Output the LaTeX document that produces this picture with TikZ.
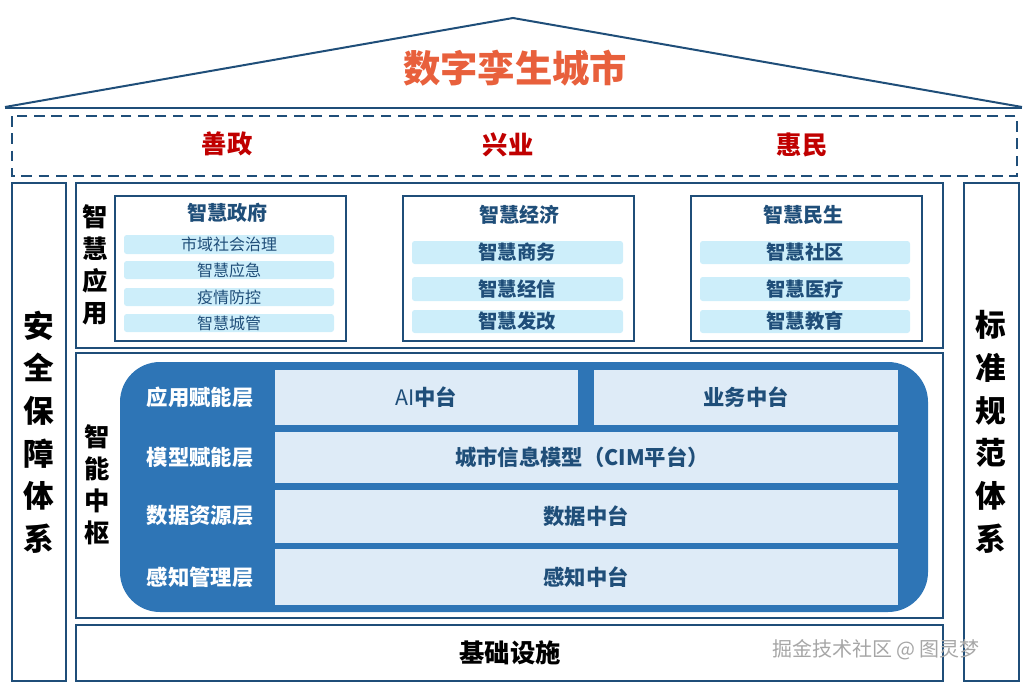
\documentclass[tikz,border=0pt]{standalone}
\usepackage{fontspec}
\setmainfont{Noto Sans CJK SC}[BoldFont={Noto Sans CJK SC Black}]
\definecolor{frame}{RGB}{31,78,121}
\definecolor{hub}{RGB}{46,117,182}
\definecolor{cell}{RGB}{222,235,247}
\definecolor{bar}{RGB}{205,238,250}
\definecolor{goal}{RGB}{192,0,0}
\definecolor{titlec}{RGB}{232,96,60}
\tikzset{every picture/.style={line width=1pt},
  box/.style={draw=frame,line width=1.2pt},
  bar/.style={fill=bar,draw=none,rounded corners=2pt},
  celltxt/.style={font=\bfseries\fontsize{16}{16}\selectfont,text=frame},
  layer/.style={font=\bfseries\fontsize{16}{16}\selectfont,text=white},
  vert/.style={font=\bfseries\fontsize{23}{32}\selectfont,align=center}}

\begin{document}
\begin{tikzpicture}[x=0.75pt,y=0.75pt,yscale=-1,xscale=1]
\useasboundingbox (0,0) rectangle (1027,685);

%Roof
\draw [frame,line width=1.5pt] (5,107) -- (513,18) -- (1022,107) ;
\draw [frame,line width=1.5pt] (5,108) -- (1022,108) ;
\node (title) [font=\bfseries\fontsize{28}{28}\selectfont,text=titlec] at (515,68) {数字孪生城市};

%Goals
\draw [frame,line width=2.2pt,dash pattern={on 8pt off 5pt}] (12,116) rectangle (1017,176) ;
\node (g1) [font=\bfseries\fontsize{19}{19}\selectfont,text=goal] at (227,144) {善政};
\node (g2) [font=\bfseries\fontsize{19}{19}\selectfont,text=goal] at (508,145) {兴业};
\node (g3) [font=\bfseries\fontsize{19}{19}\selectfont,text=goal] at (802,145) {惠民};

%Side columns
\draw [box] (12,183) rectangle (66,681) ;
\draw [box] (964,183) rectangle (1019,681) ;
\node (safe) [vert] at (39,432) {安\\全\\保\\障\\体\\系};
\node (norm) [vert] at (991,432) {标\\准\\规\\范\\体\\系};

%Smart applications
\draw [box] (76,183) rectangle (943,348) ;
\node (app) [vert,font=\bfseries\fontsize{19}{24}\selectfont] at (95,265) {智\\慧\\应\\用};
\draw [box] (115,196) rectangle (346,341) ;
\draw [box] (403,196) rectangle (634,341) ;
\draw [box] (691,196) rectangle (922,341) ;
\node (gov) [font=\bfseries\fontsize{15}{15}\selectfont,text=frame] at (227,213) {智慧政府};
\node (eco) [font=\bfseries\fontsize{15}{15}\selectfont,text=frame] at (519,215) {智慧经济};
\node (liv) [font=\bfseries\fontsize{15}{15}\selectfont,text=frame] at (803,215) {智慧民生};
\foreach \ya/\yb/\t [count=\i] in {235/254/市域社会治理,261/279/智慧应急,288/306/疫情防控,314/332/智慧城管}
  {\fill [bar] (124,\ya) rectangle (334,\yb);
   \node (gov\i) [font=\fontsize{12}{12}\selectfont,text=frame] at (229,{(\ya+\yb)/2}) {\t};}
\foreach \ya/\yb/\t/\s [count=\i] in {241/264/智慧商务/智慧社区,277/301/智慧经信/智慧医疗,310/333/智慧发改/智慧教育}
  {\fill [bar] (412,\ya) rectangle (623,\yb);
   \fill [bar] (700,\ya) rectangle (910,\yb);
   \node (eco\i) [font=\bfseries\fontsize{14.5}{14.5}\selectfont,text=frame] at (517,{(\ya+\yb)/2}) {\t};
   \node (liv\i) [font=\bfseries\fontsize{14.5}{14.5}\selectfont,text=frame] at (805,{(\ya+\yb)/2}) {\s};}

%Smart hub
\draw [box] (76,353) rectangle (943,618) ;
\node (hubl) [vert,font=\bfseries\fontsize{19}{24}\selectfont] at (97,485) {智\\能\\中\\枢};
\fill [hub,rounded corners=30pt] (120,362) rectangle (928,612) ;
\fill [cell] (275,370) rectangle (578,425) ;
\fill [cell] (594,370) rectangle (898,425) ;
\fill [cell] (275,432) rectangle (898,483) ;
\fill [cell] (275,490) rectangle (898,543) ;
\fill [cell] (275,549) rectangle (898,605) ;
\node (ai) [celltxt] at (426,397) {\mdseries AI\bfseries 中台};
\node (biz) [celltxt] at (746,397) {业务中台};
\node (cim) [celltxt] at (582,457) {城市信息模型（CIM平台）};
\node (data) [celltxt] at (586,516) {数据中台};
\node (sense) [celltxt] at (586,577) {感知中台};
\node (l1) [layer] at (200,397) {应用赋能层};
\node (l2) [layer] at (200,457) {模型赋能层};
\node (l3) [layer] at (200,516) {数据资源层};
\node (l4) [layer] at (200,577) {感知管理层};

%Infrastructure
\draw [box] (76,625) rectangle (943,681) ;
\node (base) [font=\bfseries\fontsize{19}{19}\selectfont] at (510,653) {基础设施};
\node (mark) [font=\fontsize{15}{15}\selectfont,text=black!35] at (876,650) {掘金技术社区 @ 图灵梦};
\end{tikzpicture}
\end{document}
